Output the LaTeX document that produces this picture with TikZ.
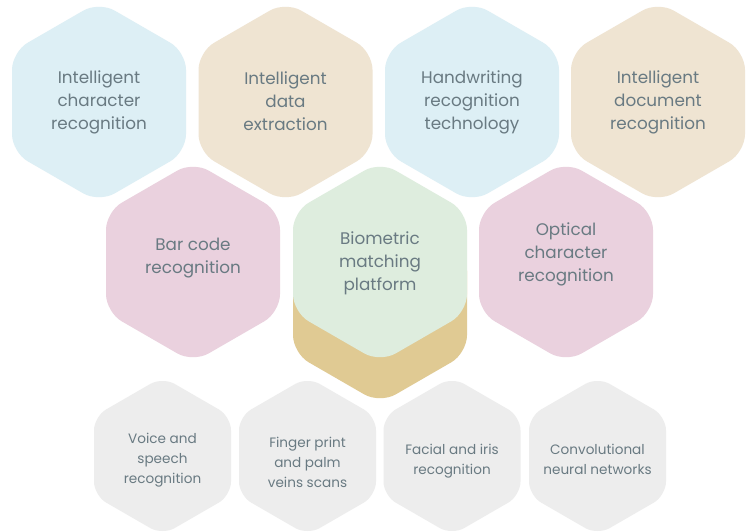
\documentclass[tikz,border=0pt]{standalone}
\usepackage{fontspec}
\setmainfont{Poppins}
\definecolor{hblue}{RGB}{221,239,245}
\definecolor{hbeige}{RGB}{239,228,210}
\definecolor{hpink}{RGB}{234,209,222}
\definecolor{hgreen}{RGB}{222,237,222}
\definecolor{hgold}{RGB}{224,202,147}
\definecolor{hgrey}{RGB}{237,237,237}
\definecolor{htext}{RGB}{105,122,130}
\newcommand\myhex[5]{% cx, cy, apothem, corner, fill
  \fill[#5, shift={(#1,#2)}, rounded corners=#4pt]
    (#3,0) -- (30:{#3*1.1547}) -- (90:{#3*1.1547}) -- (150:{#3*1.1547})
    -- (210:{#3*1.1547}) -- (270:{#3*1.1547}) -- (330:{#3*1.1547}) -- cycle;}
\begin{document}
\begin{tikzpicture}[x=1pt,y=-1pt,
  bigtxt/.style={text=htext, align=center, font=\fontsize{16.8}{23}\selectfont},
  smalltxt/.style={text=htext, align=center, font=\fontsize{13.6}{20}\selectfont}]
\useasboundingbox[fill=white] (0,0) rectangle (752,531);
% top row
\myhex{99}{102}{87}{18}{hblue}
\myhex{285.5}{102}{87}{18}{hbeige}
\myhex{472}{102}{87}{18}{hblue}
\myhex{658}{102}{87}{18}{hbeige}
% middle row
\myhex{380}{303}{87}{18}{hgold}
\myhex{193}{262}{87}{18}{hpink}
\myhex{380}{262}{87}{18}{hgreen}
\myhex{566}{262}{87}{18}{hpink}
% bottom row
\myhex{162.5}{456}{68.5}{14}{hgrey}
\myhex{307.5}{456}{68.5}{14}{hgrey}
\myhex{452}{456}{68.5}{14}{hgrey}
\myhex{597.5}{456}{68.5}{14}{hgrey}
% texts
\node[bigtxt] (t1) at (99,102.5) {Intelligent\\character\\recognition};
\node[bigtxt] (t2) at (285.5,101.5) {Intelligent\\data\\extraction};
\node[bigtxt] (t3) at (472,102.5) {Handwriting\\recognition\\technology};
\node[bigtxt] (t4) at (658,102.5) {Intelligent\\document\\recognition};
\node[bigtxt] (m1) at (193,258) {Bar code\\recognition};
\node[bigtxt] (m2) at (380,263) {Biometric\\matching\\platform};
\node[bigtxt] (m3) at (566,254.5) {Optical\\character\\recognition};
\node[smalltxt] (b1) at (162.5,460) {Voice and\\speech\\recognition};
\node[smalltxt] (b2) at (307.5,462) {Finger print\\and palm\\veins scans};
\node[smalltxt] (b3) at (452,461) {Facial and iris\\recognition};
\node[smalltxt] (b4) at (597.5,459) {Convolutional\\neural networks};
\end{tikzpicture}
\end{document}
